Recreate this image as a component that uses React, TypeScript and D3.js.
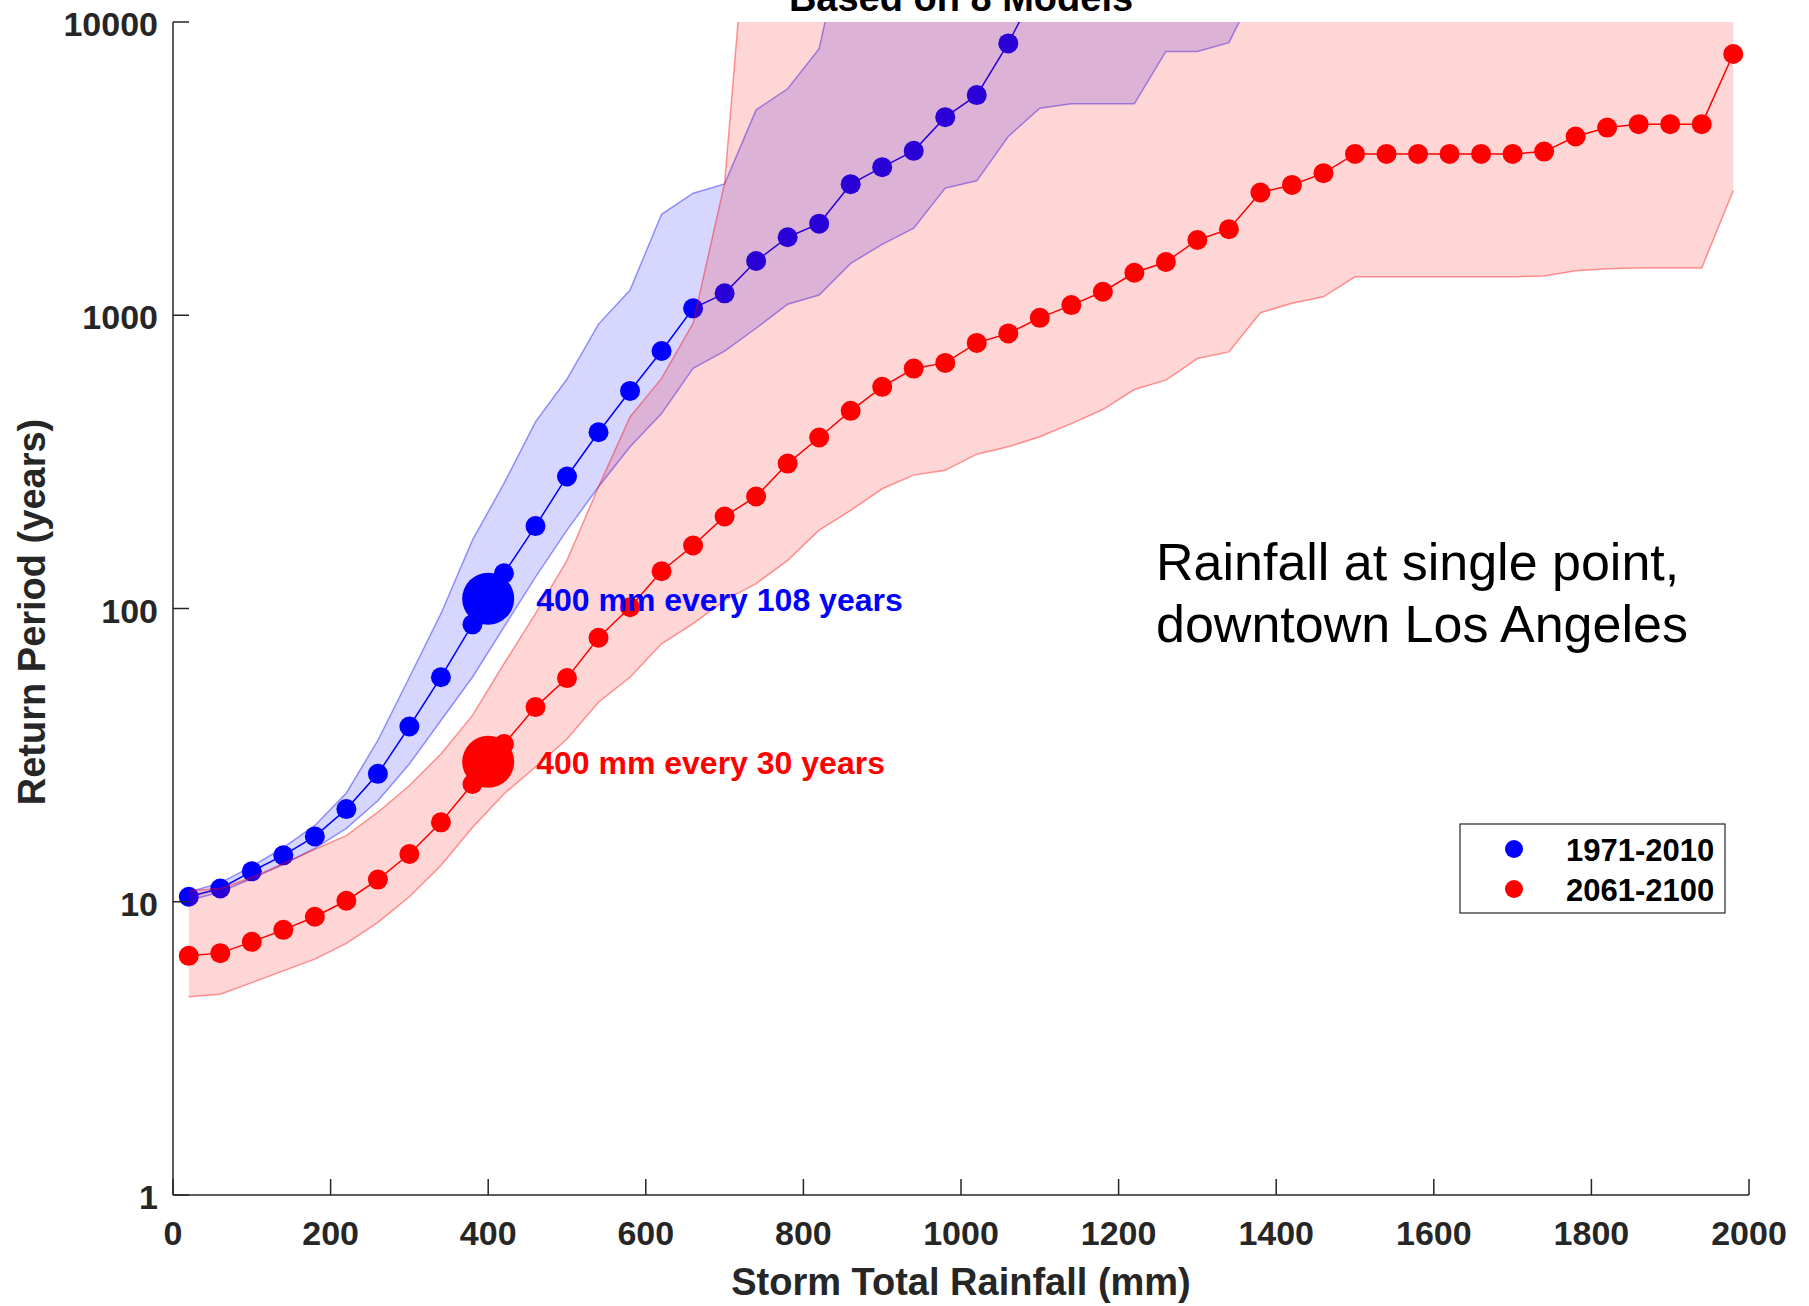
import React from 'react';
import * as d3 from 'd3';

const W = 1809;
const H = 1306;

// Storm total rainfall (mm) for each series
const blueRain = [20, 60, 100, 140, 180, 220, 260, 300, 340, 380, 420, 460, 500, 540, 580, 620, 660, 700, 740, 780, 820, 860, 900, 940, 980, 1020, 1060, 1100];
// Return period (years), 1971-2010 ensemble median
const blueReturn = [10.4, 11.1, 12.7, 14.4, 16.7, 20.7, 27.3, 39.6, 58.3, 88.3, 131.8, 191, 282, 399, 552, 755, 1056, 1188, 1531, 1845, 2053, 2799, 3199, 3636, 4738, 5632, 8452, 13700];

// Model spread band, 1971-2010
const blueBandRain = [20, 60, 100, 140, 180, 220, 260, 300, 340, 380, 420, 460, 500, 540, 580, 620, 660, 700, 740, 780, 820, 860, 900, 940, 980, 1020, 1060, 1100, 1140, 1180, 1220, 1260, 1300, 1340, 1380];
const blueBandLow = [10.1, 10.8, 12.0, 13.4, 15.2, 17.8, 22.1, 29.5, 41.5, 58.3, 86.4, 128, 185, 260, 356, 462, 659, 755, 903, 1090, 1172, 1503, 1745, 1980, 2713, 2873, 4068, 5084, 5260, 5260, 5260, 7935, 7935, 8500, 14000];
const blueBandHigh = [10.8, 11.6, 13.2, 15.3, 18.2, 23.5, 35.5, 58.3, 96, 171, 267, 433, 606, 933, 1219, 2210, 2607, 2805, 5017, 5920, 8107, 25000, 1e6, 1e6, 1e6, 1e6, 1e6, 1e6, 1e6, 1e6, 1e6, 1e6, 1e6, 1e6, 1e6];

// 2061-2100 ensemble median
const redRain = [20, 60, 100, 140, 180, 220, 260, 300, 340, 380, 420, 460, 500, 540, 580, 620, 660, 700, 740, 780, 820, 860, 900, 940, 980, 1020, 1060, 1100, 1140, 1180, 1220, 1260, 1300, 1340, 1380, 1420, 1460, 1500, 1540, 1580, 1620, 1660, 1700, 1740, 1780, 1820, 1860, 1900, 1940, 1980];
const redReturn = [6.54, 6.68, 7.30, 8.02, 8.89, 10.08, 11.9, 14.55, 18.66, 25.2, 34.5, 46.1, 57.9, 79.5, 101, 134, 164, 206, 241, 312, 383, 472, 570, 658, 688, 805, 867, 980, 1083, 1203, 1396, 1519, 1806, 1965, 2621, 2782, 3051, 3550, 3550, 3550, 3550, 3550, 3550, 3615, 4068, 4365, 4483, 4483, 4483, 7776];
const redBandLow = [4.74, 4.84, 5.30, 5.81, 6.37, 7.21, 8.50, 10.4, 13.3, 17.9, 23.3, 28.8, 35.9, 47.9, 58.3, 75.8, 88.8, 106.6, 121.6, 146, 185, 216, 256, 285, 296, 336, 356, 385, 427, 477, 558, 601, 712, 750, 1020, 1098, 1156, 1353, 1353, 1353, 1353, 1353, 1353, 1361, 1419, 1442, 1449, 1449, 1449, 2661];
const redBandHigh = [10.9, 11.1, 12.1, 13.5, 15.1, 16.8, 20.2, 24.9, 31.9, 43.2, 64.8, 96, 146, 260, 450, 609, 940, 2820, 55000, 1e6, 1e6, 1e6, 1e6, 1e6, 1e6, 1e6, 1e6, 1e6, 1e6, 1e6, 1e6, 1e6, 1e6, 1e6, 1e6, 1e6, 1e6, 1e6, 1e6, 1e6, 1e6, 1e6, 1e6, 1e6, 1e6, 1e6, 1e6, 1e6, 1e6, 1e6];

// Highlighted 400 mm points
const highlightRain = [400, 400];
const highlightReturn = [108, 30];
const highlightLabels = ['400 mm every 108 years', '400 mm every 30 years'];

const xTicks = [0, 200, 400, 600, 800, 1000, 1200, 1400, 1600, 1800, 2000];
const yTicks = [1, 10, 100, 1000, 10000];
const legendLabels = ['1971-2010', '2061-2100'];

const BLUE = '#0000ff';
const RED = '#ff0000';
const AXIS = '#262626';
const FONT = "'Liberation Sans', Arial, Helvetica, sans-serif";

export default function App() {
  const left = 173, right = 1749, top = 22, bottom = 1195;
  const x = d3.scaleLinear().domain([0, 2000]).range([left, right]);
  const y = d3.scaleLog().domain([1, 10000]).range([bottom, top]);

  const band = (xs: number[], lo: number[], hi: number[]) =>
    d3.area<number>().x((_, i) => x(xs[i])).y0((_, i) => y(lo[i])).y1((_, i) => y(hi[i]))(xs) || '';
  const edge = (xs: number[], vs: number[]) =>
    d3.line<number>().x((_, i) => x(xs[i])).y((_, i) => y(vs[i]))(xs) || '';

  const colors = [BLUE, RED];

  return (
    <svg width={W} height={H} viewBox={`0 0 ${W} ${H}`}
      style={{ position: 'absolute', left: 0, top: 0, background: '#fff' }}
      fontFamily={FONT}>
      <defs>
        <clipPath id="plotclip">
          <rect x={left} y={top} width={right - left} height={bottom - top} />
        </clipPath>
      </defs>
      <rect x={0} y={0} width={W} height={H} fill="#fff" />

      <g clipPath="url(#plotclip)">
        {/* 1971-2010 band */}
        <path d={band(blueBandRain, blueBandLow, blueBandHigh)} fill={BLUE} fillOpacity={0.16} stroke="none" />
        <path d={edge(blueBandRain, blueBandLow)} fill="none" stroke={BLUE} strokeOpacity={0.4} strokeWidth={1.5} />
        <path d={edge(blueBandRain, blueBandHigh)} fill="none" stroke={BLUE} strokeOpacity={0.4} strokeWidth={1.5} />
        {/* 1971-2010 series */}
        <path d={edge(blueRain, blueReturn)} fill="none" stroke={BLUE} strokeWidth={1.5} />
        {blueRain.map((r, i) => (
          <circle key={'b' + i} cx={x(r)} cy={y(blueReturn[i])} r={10} fill={BLUE} />
        ))}
        <circle cx={x(highlightRain[0])} cy={y(highlightReturn[0])} r={26} fill={BLUE} />

        {/* 2061-2100 band */}
        <path d={band(redRain, redBandLow, redBandHigh)} fill={RED} fillOpacity={0.16} stroke="none" />
        <path d={edge(redRain, redBandLow)} fill="none" stroke={RED} strokeOpacity={0.4} strokeWidth={1.5} />
        <path d={edge(redRain, redBandHigh)} fill="none" stroke={RED} strokeOpacity={0.4} strokeWidth={1.5} />
        {/* 2061-2100 series */}
        <path d={edge(redRain, redReturn)} fill="none" stroke={RED} strokeWidth={1.5} />
        {redRain.map((r, i) => (
          <circle key={'r' + i} cx={x(r)} cy={y(redReturn[i])} r={10} fill={RED} />
        ))}
        <circle cx={x(highlightRain[1])} cy={y(highlightReturn[1])} r={26} fill={RED} />
      </g>

      {/* annotations */}
      {highlightLabels.map((t, i) => (
        <text key={'a' + i} x={x(highlightRain[i]) + 48} y={y(highlightReturn[i]) + 12}
          fontSize={32} fontWeight="bold" fill={colors[i]}>{t}</text>
      ))}

      <text x={1156} y={580} fontSize={52} fill="#000">Rainfall at single point,</text>
      <text x={1156} y={642} fontSize={52} fill="#000">downtown Los Angeles</text>

      {/* axes */}
      <g stroke={AXIS} strokeWidth={1.5} fill="none">
        <line x1={left} y1={top} x2={left} y2={bottom} />
        <line x1={left} y1={bottom} x2={right} y2={bottom} />
        {xTicks.map(t => (
          <line key={'xt' + t} x1={x(t)} x2={x(t)} y1={bottom} y2={bottom - 16} />
        ))}
        {yTicks.map(t => (
          <line key={'yt' + t} x1={left} x2={left + 16} y1={y(t)} y2={y(t)} />
        ))}
      </g>
      {xTicks.map(t => (
        <text key={'xl' + t} x={x(t)} y={1245} textAnchor="middle" fontSize={34} fontWeight="bold" fill={AXIS}>{t}</text>
      ))}
      {yTicks.map(t => (
        <text key={'yl' + t} x={158} y={y(t) + 14} textAnchor="end" fontSize={34} fontWeight="bold" fill={AXIS}>{t}</text>
      ))}

      <text x={(left + right) / 2} y={1295} textAnchor="middle" fontSize={38} fontWeight="bold" fill={AXIS}>Storm Total Rainfall (mm)</text>
      <text transform="translate(45,612) rotate(-90)" textAnchor="middle" fontSize={38} fontWeight="bold" fill={AXIS}>Return Period (years)</text>

      <text x={(left + right) / 2} y={11} textAnchor="middle" fontSize={38} fontWeight="bold" fill="#000">Based on 8 Models</text>

      {/* legend */}
      <rect x={1460} y={824} width={265} height={89} fill="#fff" stroke={AXIS} strokeWidth={1.2} />
      {legendLabels.map((l, i) => (
        <g key={'lg' + i}>
          <circle cx={1514} cy={849 + i * 40} r={9} fill={colors[i]} />
          <text x={1566} y={861 + i * 40} fontSize={31} fontWeight="bold" fill="#000">{l}</text>
        </g>
      ))}
    </svg>
  );
}
